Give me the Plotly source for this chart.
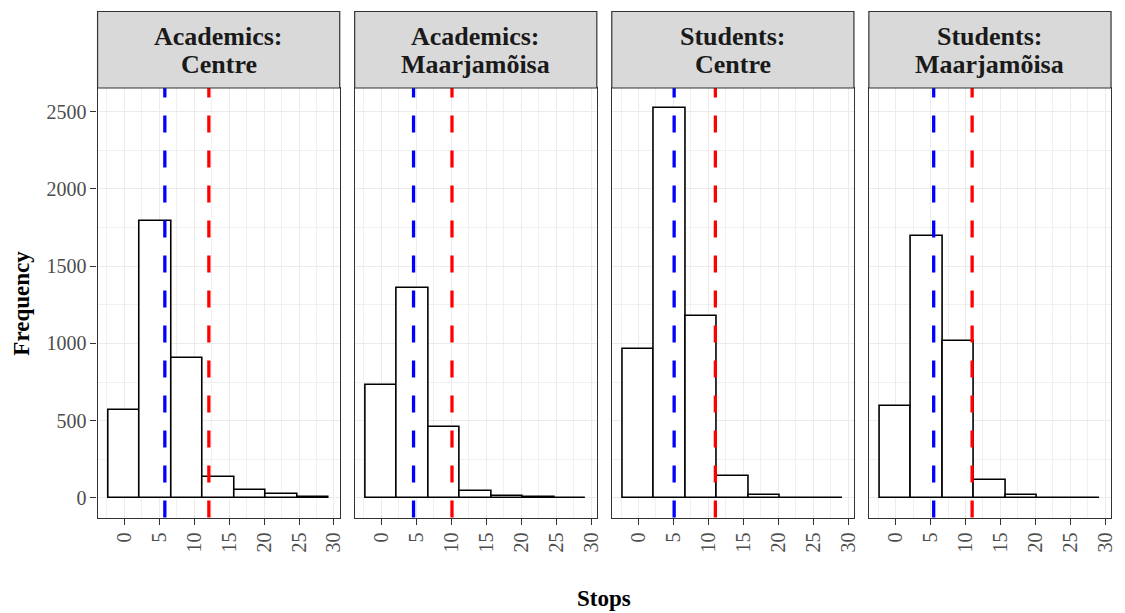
import plotly.graph_objects as go

# Histogram bins (bin centres, width 4.5) shared by all facets
bin_centers = [0, 4.5, 9, 13.5, 18, 22.5, 27]
bin_width = 4.5

panel_titles = [
    ("Academics:", "Centre"),
    ("Academics:", "Maarjamõisa"),
    ("Students:", "Centre"),
    ("Students:", "Maarjamõisa"),
]

# Counts per bin for each facet
academics_centre = [570, 1790, 905, 135, 50, 25, 5]
academics_maarjamoisa = [730, 1360, 460, 45, 15, 5, 2]
students_centre = [965, 2525, 1180, 140, 20, 2, 1]
students_maarjamoisa = [595, 1695, 1015, 115, 20, 3, 1]
panel_counts = [academics_centre, academics_maarjamoisa, students_centre, students_maarjamoisa]

# Reference lines per facet (blue and red dashed verticals)
blue_lines = [5.8, 4.6, 5.1, 5.45]
red_lines = [12.1, 10.1, 11.0, 10.95]

x_ticks = [0, 5, 10, 15, 20, 25, 30]
y_ticks = [0, 500, 1000, 1500, 2000, 2500]

W, H = 1125, 613
left, right = 98, 1116
gap = 15
panel_w = (right - left - 3 * gap) / 4
plot_top, plot_bottom = 88, 517.5
strip_top = 11.5

def px_x(v):
    return v / W

def px_y(v):
    return 1 - v / H

x_range = [-3.825, 30.825]
y_range = [-126.3, 2652.3]

serif = "Liberation Serif"
border = "#333333"

fig = go.Figure()
shapes = []
annotations = []

for i in range(4):
    n = "" if i == 0 else str(i + 1)
    xa, ya = "x" + n, "y" + n
    x0 = left + i * (panel_w + gap)
    x1 = x0 + panel_w

    fig.add_trace(go.Bar(
        x=bin_centers, y=panel_counts[i], width=bin_width,
        marker=dict(color="white", line=dict(color="black", width=1.6)),
        xaxis=xa, yaxis=ya, showlegend=False, hoverinfo="x+y",
    ))

    axis_common = dict(
        showline=True, mirror=True, linecolor=border, linewidth=1.2,
        gridcolor="#EBEBEB", gridwidth=1.1, zeroline=False,
    )
    fig.layout["xaxis" + n] = dict(
        domain=[px_x(x0), px_x(x1)], range=x_range, anchor=ya,
        tickmode="array", tickvals=x_ticks, ticktext=[str(t) for t in x_ticks],
        tickangle=-90, ticks="outside", ticklen=6, tickwidth=1.2, tickcolor=border,
        tickfont=dict(family=serif, size=20, color="#4D4D4D"),
        minor=dict(tick0=0, dtick=2.5, showgrid=True, gridcolor="#F0F0F0", gridwidth=0.7),
        **axis_common,
    )
    fig.layout["yaxis" + n] = dict(
        domain=[px_y(plot_bottom), px_y(plot_top)], range=y_range, anchor=xa,
        tickmode="array", tickvals=y_ticks, ticktext=[str(t) for t in y_ticks],
        ticks="outside" if i == 0 else "", ticklen=6, tickwidth=1.2, tickcolor=border,
        showticklabels=(i == 0),
        tickfont=dict(family=serif, size=20, color="#4D4D4D"),
        minor=dict(tick0=250, dtick=500, showgrid=True, gridcolor="#F0F0F0", gridwidth=0.7),
        **axis_common,
    )

    # dashed reference lines, drawn bottom-up across the full panel height
    for val, col in ((blue_lines[i], "#0000FF"), (red_lines[i], "#FF0000")):
        shapes.append(dict(
            type="line", xref=xa, yref=ya + " domain", x0=val, x1=val, y0=0, y1=1,
            line=dict(color=col, width=3.3, dash="17px,18px"), layer="above",
        ))

    # facet strip
    shapes.append(dict(
        type="rect", xref="paper", yref="paper",
        x0=px_x(x0), x1=px_x(x1), y0=px_y(plot_top), y1=px_y(strip_top),
        fillcolor="#D9D9D9", line=dict(color=border, width=1.2), layer="above",
    ))
    cx = px_x((x0 + x1) / 2)
    for line_text, yc in zip(panel_titles[i], (36.5, 64.5)):
        annotations.append(dict(
            text="<b>%s</b>" % line_text, x=cx, y=px_y(yc), xref="paper", yref="paper",
            xanchor="center", yanchor="middle", showarrow=False,
            font=dict(family=serif, size=26, color="#1A1A1A"),
        ))

annotations.append(dict(
    text="<b>Stops</b>", x=px_x((left + right) / 2), y=px_y(598), xref="paper", yref="paper",
    xanchor="center", yanchor="middle", showarrow=False,
    font=dict(family=serif, size=23, color="black"),
))
annotations.append(dict(
    text="<b>Frequency</b>", x=px_x(22), y=px_y((plot_top + plot_bottom) / 2),
    xref="paper", yref="paper", xanchor="center", yanchor="middle",
    textangle=-90, showarrow=False,
    font=dict(family=serif, size=23, color="black"),
))

fig.update_layout(
    width=W, height=H, margin=dict(l=0, r=0, t=0, b=0),
    paper_bgcolor="white", plot_bgcolor="white",
    shapes=shapes, annotations=annotations, bargap=0, showlegend=False,
)

fig.write_html("out.html")
